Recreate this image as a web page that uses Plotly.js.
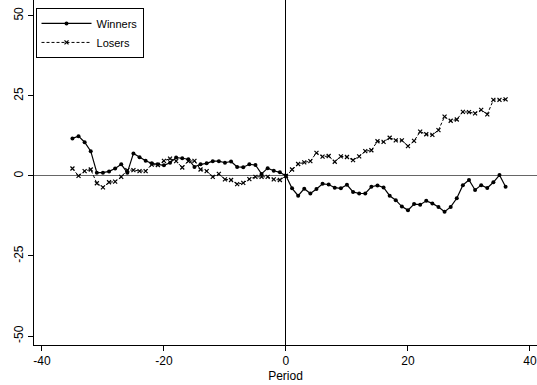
<!DOCTYPE html>
<html>
<head>
<meta charset="utf-8">
<script src="https://cdn.plot.ly/plotly-3.0.1.min.js"></script>
<style>html,body{margin:0;padding:0;background:#fff;}#chart{width:537px;height:385px;}</style>
</head>
<body>
<div id="chart"></div>
<script>
const periods = [];
for (let p = -35; p <= 36; p++) periods.push(p);

const winners = [
  11.7, 12.4, 10.5, 7.7, 1.0, 1.0, 1.4, 2.3, 3.6, 1.0,
  7.0, 5.8, 4.7, 3.9, 3.6, 3.3, 4.1, 5.7, 5.5, 5.2,
  2.8, 3.6, 3.9, 4.6, 4.6, 4.1, 4.5, 2.8, 2.7, 3.6,
  3.4, 0.6, 2.4, 1.6, 1.1, 0.0,
  -3.9, -6.2, -4.0, -5.5, -4.1, -2.5, -2.7, -3.7, -3.9, -2.8,
  -5.0, -5.5, -5.5, -3.4, -3.0, -3.6, -6.2, -7.6, -9.6, -10.7,
  -8.8, -9.0, -7.8, -8.6, -9.7, -11.2, -9.7, -7.0, -2.9, -1.3,
  -4.4, -2.9, -3.8, -2.0, 0.25, -3.4
];

const losers = [
  2.3, 0.0, 1.5, 2.0, -2.3, -3.6, -2.0, -1.8, -0.3, 1.8,
  1.8, 1.5, 1.5, 3.5, 3.4, 4.7, 5.4, 4.6, 2.6, 4.6,
  4.7, 2.0, 1.5, -0.3, 0.6, -1.1, -1.3, -2.6, -2.2, -1.0,
  -0.3, -0.3, -0.3, -1.1, -1.3, 0.0,
  2.0, 3.7, 4.2, 4.6, 7.2, 6.0, 6.2, 4.4, 6.1, 5.9,
  4.9, 6.1, 7.7, 8.0, 10.8, 10.6, 11.9, 11.1, 11.1, 9.3,
  10.9, 13.8, 13.0, 12.8, 14.3, 18.5, 17.2, 17.6, 20.0, 19.9,
  19.5, 20.6, 19.2, 23.7, 23.7, 23.9
];

const xTicks = [-40, -20, 0, 20, 40];
const xTickText = ['-40', '-20', '0', '20', '40'];
const yTicks = [-50, -25, 0, 25, 50];
const yTickText = ['-50', '-25', '0', '25', '50'];

const traces = [
  {
    x: periods, y: winners, name: 'Winners', type: 'scatter', mode: 'lines+markers',
    line: {color: '#000', width: 1.2},
    marker: {symbol: 'circle', size: 4, color: '#000'}
  },
  {
    x: periods, y: losers, name: 'Losers', type: 'scatter', mode: 'lines+markers',
    line: {color: '#000', width: 1, dash: '3px,2px'},
    marker: {symbol: 'x-thin-open', size: 4, color: '#000', line: {color: '#000', width: 1.2}}
  }
];

const layout = {
  width: 537, height: 385,
  margin: {l: 34, r: 0, t: 0, b: 40},
  paper_bgcolor: '#fff', plot_bgcolor: '#fff',
  font: {family: '"Liberation Sans", Arial, sans-serif', size: 12, color: '#000'},
  showlegend: true,
  legend: {
    x: 0.003, y: 0.977, xanchor: 'left', yanchor: 'top',
    bordercolor: '#000', borderwidth: 1, bgcolor: '#fff',
    font: {size: 11, color: '#000'},
    itemwidth: 50, tracegroupgap: 0
  },
  xaxis: {
    range: [-41.3, 41.15],
    tickmode: 'array', tickvals: xTicks, ticktext: xTickText,
    ticks: 'outside', ticklen: 5, tickcolor: '#000',
    showline: true, linecolor: '#000', linewidth: 1,
    showgrid: false,
    zeroline: true, zerolinecolor: '#000', zerolinewidth: 1,
    title: {text: 'Period', font: {size: 12}, standoff: 4},
    tickfont: {size: 12}
  },
  yaxis: {
    range: [-52.8, 54.9],
    tickmode: 'array', tickvals: yTicks, ticktext: yTickText,
    ticks: 'outside', ticklen: 5, tickcolor: '#000',
    tickangle: -90,
    showline: true, linecolor: '#000', linewidth: 1,
    showgrid: false,
    zeroline: true, zerolinecolor: '#666', zerolinewidth: 1,
    tickfont: {size: 12}
  }
};

Plotly.newPlot('chart', traces, layout, {staticPlot: true, displayModeBar: false});
</script>
</body>
</html>
